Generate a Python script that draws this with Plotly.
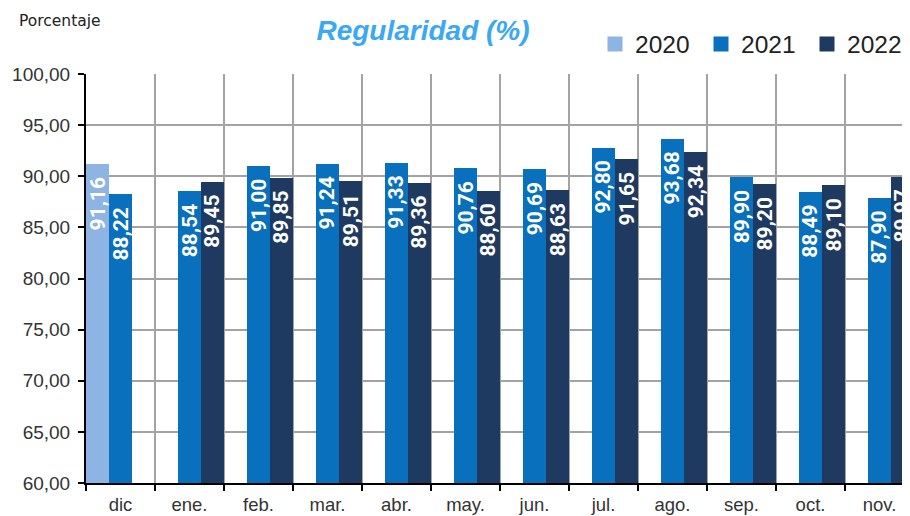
import plotly.graph_objects as go

# ---------------- data ----------------
categories = ["dic", "ene.", "feb.", "mar.", "abr.", "may.", "jun.", "jul.", "ago.", "sep.", "oct.", "nov."]
years = ["2020", "2021", "2022"]
v2020 = [91.16, None, None, None, None, None, None, None, None, None, None, None]
v2021 = [88.22, 88.54, 91.00, 91.24, 91.33, 90.76, 90.69, 92.80, 93.68, 89.90, 88.49, 87.90]
v2022 = [None, 89.45, 89.85, 89.51, 89.36, 88.60, 88.63, 91.65, 92.34, 89.20, 89.10, 89.97]
y_ticks = [60, 65, 70, 75, 80, 85, 90, 95, 100]

# ---------------- style ----------------
colors = ["#8DB4E2", "#0870BC", "#1F3A60"]
W, H = 910, 516
ML, MR, MT, MB = 78, 4, 66, 41
plot_w = W - ML - MR
plot_h = H - MT - MB
cat_px = 69.0
x_min = -0.5
x_max = x_min + plot_w / cat_px

SANS = "Liberation Sans, Arial, sans-serif"
BARFONT = "Roboto, Liberation Sans, Arial, sans-serif"

series = list(zip(years, [v2020, v2021, v2022], colors))

fig = go.Figure()
for name, vals, col in series:
    fig.add_trace(go.Bar(
        x=categories, y=vals, name=name,
        marker=dict(color=col, line=dict(width=0)),
        showlegend=False, hoverinfo="skip",
    ))
for name, vals, col in series:
    fig.add_trace(go.Scatter(
        x=[None], y=[None], mode="markers", name=name,
        marker=dict(symbol="square", size=15, color=col, line=dict(width=0)),
        showlegend=True,
    ))

# value labels inside bars (rotated)
for k, (name, vals, col) in enumerate(series):
    for c, v in zip(categories, vals):
        if v is None:
            continue
        fig.add_annotation(
            x=c, y=v, xref="x", yref="y",
            text="<b>" + f"{v:.2f}".replace(".", ",") + "</b>",
            textangle=-90, showarrow=False,
            xanchor="center", yanchor="top",
            xshift=(k - 1) * cat_px / 3, yshift=-11,
            font=dict(family=BARFONT, size=21, color="white"),
        )

# "Porcentaje"
fig.add_annotation(
    xref="paper", yref="paper",
    x=(9 - ML) / plot_w, y=1 + (MT - 13) / plot_h,
    xanchor="left", yanchor="middle", showarrow=False,
    text="Porcentaje",
    font=dict(family="DejaVu Sans, Verdana, sans-serif", size=15.5, color="#222222"),
)

fig.update_layout(
    width=W, height=H,
    margin=dict(l=ML, r=MR, t=MT, b=MB, pad=0, autoexpand=False),
    paper_bgcolor="white",
    plot_bgcolor="white",
    barmode="group", bargap=0, bargroupgap=0,
    separators=",.",
    title=dict(
        text="<b><i>Regularidad (%)</i></b>",
        x=415 / W, xanchor="center", xref="container",
        y=1 - 22 / H, yanchor="middle", yref="container",
        font=dict(family=SANS, size=28, color="#3AA8F2"),
    ),
    legend=dict(
        orientation="h",
        x=(587 - ML) / plot_w, xanchor="left",
        y=1 + (MT - 36) / plot_h, yanchor="middle",
        font=dict(family=SANS, size=24.5, color="#222222"),
        bgcolor="rgba(0,0,0,0)", itemsizing="trace",
        traceorder="normal", entrywidth=61,
    ),
    xaxis=dict(
        type="category", categoryorder="array", categoryarray=categories,
        range=[x_min, x_max], tickson="boundaries",
        showgrid=True, gridcolor="#A3A3A3", gridwidth=1.5,
        showline=True, linecolor="black", linewidth=2,
        ticks="outside", ticklen=6, tickwidth=2, tickcolor="black",
        tickfont=dict(family=SANS, size=18.5, color="#333333"),
        ticklabelstandoff=4,
        fixedrange=True, automargin=False,
    ),
    yaxis=dict(
        range=[60, 100], tickvals=y_ticks, tickformat=".2f",
        showgrid=True, gridcolor="#A3A3A3", gridwidth=1.5,
        showline=True, linecolor="black", linewidth=2,
        ticks="outside", ticklen=6, tickwidth=2, tickcolor="black",
        tickfont=dict(family=SANS, size=19, color="#333333"),
        ticklabelstandoff=4,
        zeroline=False, fixedrange=True, automargin=False,
    ),
)

fig.write_html("out.html")
